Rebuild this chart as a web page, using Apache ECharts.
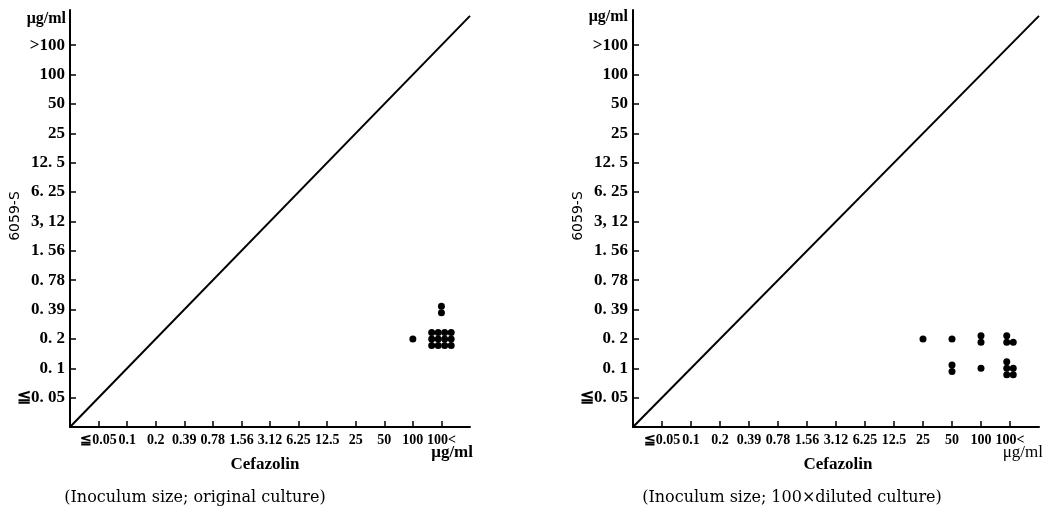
<!DOCTYPE html>
<html>
<head>
<meta charset="utf-8">
<script src="https://cdn.jsdelivr.net/npm/echarts@6/dist/echarts.min.js"></script>
<style>
  html, body { margin: 0; padding: 0; background: #fff; }
  #chart { width: 1050px; height: 522px; }
</style>
</head>
<body>
<div id="chart"></div>
<script>
// MIC steps (µg/ml) on each axis, lowest first
const cefazolinSteps = ['≦0.05', '0.1', '0.2', '0.39', '0.78', '1.56', '3.12', '6.25', '12.5', '25', '50', '100', '100<'];
const s6059Steps = ['≦0.05', '0.1', '0.2', '0.39', '0.78', '1.56', '3.12', '6.25', '12.5', '25', '50', '100', '>100'];
const s6059TickLabels = ['≦0. 05', '0. 1', '0. 2', '0. 39', '0. 78', '1. 56', '3, 12', '6. 25', '12. 5', '25', '50', '100', '>100'];

// Strain counts: [cefazolin MIC, 6059-S MIC, number of strains]
const originalCulture = [
  ['100', '0.2', 1],
  ['100<', '0.2', 12],
  ['100<', '0.39', 2]
];
const dilutedCulture = [
  ['25', '0.2', 1],
  ['50', '0.2', 1],
  ['50', '0.1', 2],
  ['100', '0.2', 2],
  ['100', '0.1', 1],
  ['100<', '0.2', 3],
  ['100<', '0.1', 5]
];

const captions = ['(Inoculum size; original culture)', '(Inoculum size; 100×diluted culture)'];

// Packs n dots around a cell: columns filled top-down, a short last column sits at the bottom
function clusterOffsets(n, step) {
  const cols = n <= 2 ? 1 : Math.max(2, Math.ceil(n / 3));
  const rows = Math.ceil(n / cols);
  const out = [];
  for (let c = 0; c < cols; c++) {
    const count = Math.min(rows, n - c * rows);
    for (let k = 0; k < count; k++) {
      const r = rows - count + k;
      out.push([(c - (cols - 1) / 2) * step, (r - (rows - 1) / 2) * step]);
    }
  }
  return out;
}

function dots(rows) {
  const pts = [];
  rows.forEach(([cx, cy, n]) => {
    const x = cefazolinSteps.indexOf(cx) + 1;
    const y = s6059Steps.indexOf(cy) + 1;
    clusterOffsets(n, 6.5).forEach(off => {
      pts.push({ value: [x, y], symbolOffset: off });
    });
  });
  return pts;
}

const tickIdx = cefazolinSteps.map((_, i) => i + 1);
const serif = '"Liberation Serif", "DejaVu Serif", serif';

function xAxis(gridIndex) {
  return {
    type: 'value', gridIndex, min: 0, max: 14, interval: 1,
    axisLine: { show: true, onZero: false, lineStyle: { color: '#000', width: 2 } },
    axisTick: { show: true, inside: true, length: 6, customValues: tickIdx, lineStyle: { color: '#000', width: 1.5 } },
    axisLabel: {
      customValues: tickIdx, margin: 6,
      formatter: v => cefazolinSteps[v - 1] || '',
      color: '#000', fontFamily: serif, fontWeight: 'bold', fontSize: 14
    },
    splitLine: { show: false }
  };
}
function yAxis(gridIndex) {
  return {
    type: 'value', gridIndex, min: 0, max: 14.2, interval: 1,
    axisLine: { show: true, onZero: false, lineStyle: { color: '#000', width: 2 } },
    axisTick: { show: true, inside: true, length: 6, customValues: tickIdx, lineStyle: { color: '#000', width: 1.5 } },
    axisLabel: {
      customValues: tickIdx, margin: 5,
      formatter: v => s6059TickLabels[v - 1] || '',
      color: '#000', fontFamily: serif, fontWeight: 'bold', fontSize: 17
    },
    splitLine: { show: false }
  };
}

function text(x, y, str, opts) {
  return {
    type: 'text', x, y,
    style: Object.assign({
      text: str, fill: '#000', font: 'bold 16px ' + serif,
      textAlign: 'center', textVerticalAlign: 'middle'
    }, opts || {})
  };
}

const chart = echarts.init(document.getElementById('chart'), null, { renderer: 'canvas' });
chart.setOption({
  backgroundColor: '#fff',
  animation: false,
  grid: [
    { left: 70, top: 10, width: 400, bottom: 95 },
    { left: 633, top: 10, width: 406, bottom: 95 }
  ],
  xAxis: [xAxis(0), xAxis(1)],
  yAxis: [yAxis(0), yAxis(1)],
  series: [
    { type: 'line', xAxisIndex: 0, yAxisIndex: 0, data: [[0, 0], [14, 14]], symbol: 'none', lineStyle: { color: '#000', width: 2 } },
    { type: 'line', xAxisIndex: 1, yAxisIndex: 1, data: [[0, 0], [14, 14]], symbol: 'none', lineStyle: { color: '#000', width: 2 } },
    { type: 'scatter', xAxisIndex: 0, yAxisIndex: 0, data: dots(originalCulture), symbol: 'circle', symbolSize: 7, itemStyle: { color: '#000', opacity: 1 } },
    { type: 'scatter', xAxisIndex: 1, yAxisIndex: 1, data: dots(dilutedCulture), symbol: 'circle', symbolSize: 7, itemStyle: { color: '#000', opacity: 1 } }
  ],
  graphic: [
    text(66, 19, 'μg/ml', { textAlign: 'right' }),
    text(628, 17, 'μg/ml', { textAlign: 'right' }),
    text(473, 453, 'μg/ml', { textAlign: 'right', font: 'bold 17px ' + serif }),
    text(1043, 453, 'μg/ml', { textAlign: 'right', font: '17px ' + serif }),
    text(265, 465, 'Cefazolin', { font: 'bold 17px ' + serif }),
    text(838, 465, 'Cefazolin', { font: 'bold 17px ' + serif }),
    { type: 'text', x: 15, y: 216, rotation: Math.PI / 2,
      style: { text: '6059-S', fill: '#000', font: '14px "DejaVu Sans", sans-serif', textAlign: 'center', textVerticalAlign: 'middle' } },
    { type: 'text', x: 578, y: 216, rotation: Math.PI / 2,
      style: { text: '6059-S', fill: '#000', font: '14px "DejaVu Sans", sans-serif', textAlign: 'center', textVerticalAlign: 'middle' } },
    text(195, 498, captions[0], { font: '16px "DejaVu Serif", serif' }),
    text(792, 498, captions[1], { font: '16px "DejaVu Serif", serif' })
  ]
});
</script>
</body>
</html>
